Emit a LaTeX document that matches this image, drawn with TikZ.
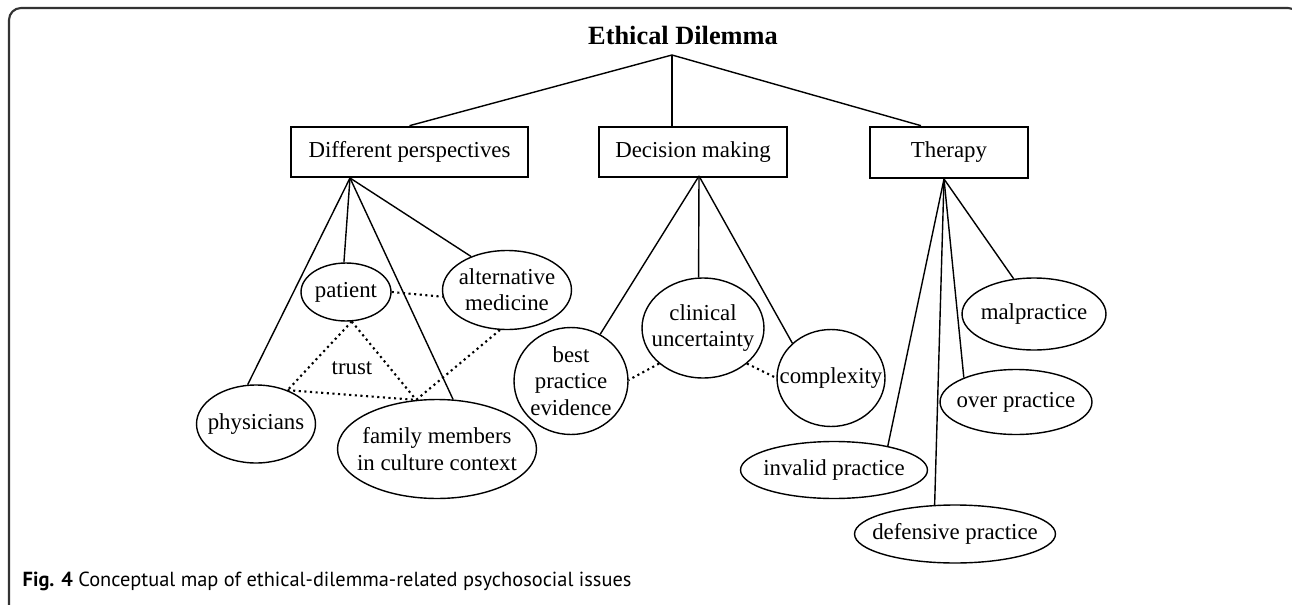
\documentclass[tikz,border=0pt]{standalone}
\usepackage{fontspec}
\setmainfont{Liberation Serif}
\newfontfamily\capfont{PT Sans}
\usetikzlibrary{%
  shapes,%
  shapes.geometric,% wg. ellipse
  calc%
}

\begin{document}
\begin{tikzpicture}
[x=0.02cm, y=-0.02cm, line width=0.8pt,
box/.style={rectangle, draw, line width=1.5pt, inner sep=0pt, font=\fontsize{13}{15}\selectfont},
oval/.style={ellipse, draw, line width=0.8pt, inner sep=0pt},
txt/.style={inner sep=0pt, align=center, font=\fontsize{13}{15}\selectfont},
link/.style={draw, line width=0.8pt},
tie/.style={draw, dotted, line width=1.2pt}]

\useasboundingbox (0,0) rectangle (1292,605);
\clip (0,0) rectangle (1292,605);

% frame
\draw[line width=1.2pt, black!80, rounded corners=0.24cm] (9,640) -- (9,8) -- (1300,8) -- (1300,640);

\node[font=\fontsize{15}{18}\selectfont\bfseries] (title) at (683,35) {Ethical Dilemma};
\coordinate (hub) at (672,55);

\node[box, minimum width=4.74cm, minimum height=1cm] (persp) at (409.5,152) {Different perspectives};
\node[box, minimum width=3.76cm, minimum height=1cm] (decis) at (693,152) {Decision making};
\node[box, minimum width=3.16cm, minimum height=1.02cm] (thera) at (949,152.5) {Therapy};

\coordinate (persp-o) at (350,178);
\coordinate (decis-o) at (699,176);
\coordinate (thera-o) at (944,179);

% different perspectives
\node[oval, minimum width=1.8cm, minimum height=1.16cm, label={[txt]center:patient}] (pat) at (346,292) {};
\node[oval, minimum width=2.58cm, minimum height=1.58cm, label={[txt]center:{alternative\\medicine}}] (alt) at (507,290) {};
\node[oval, minimum width=2.38cm, minimum height=1.56cm, label={[txt]center:physicians}] (phys) at (256,424) {};
\node[oval, minimum width=3.98cm, minimum height=1.98cm, label={[txt]center:{family members\\in culture context}}] (fam) at (437,449) {};
\node[txt] (trust) at (352,368) {trust};

% decision making
\node[oval, minimum width=2.28cm, minimum height=2.14cm, label={[txt]center:{best\\practice\\evidence}}] (best) at (571,381) {};
\node[oval, minimum width=2.44cm, minimum height=2cm, label={[txt]center:{clinical\\uncertainty}}] (clin) at (703,328) {};
\node[oval, minimum width=2.16cm, minimum height=1.94cm, label={[txt]center:complexity}] (comp) at (831,378) {};

% therapy
\node[oval, minimum width=2.88cm, minimum height=1.44cm, label={[txt]center:malpractice}] (mal) at (1034,314) {};
\node[oval, minimum width=3.04cm, minimum height=1.3cm, label={[txt]center:over practice}] (over) at (1016,402) {};
\node[oval, minimum width=3.74cm, minimum height=1.14cm, label={[txt]center:invalid practice}] (inv) at (834,470) {};
\node[oval, minimum width=4.02cm, minimum height=1.16cm, label={[txt]center:defensive practice}] (def) at (955,534) {};

\draw[link] (hub) -- (persp.north);
\draw[link] (hub) -- (hub |- decis.north);
\draw[link] (hub) -- ([xshift=-0.56cm]thera.north);

\draw[link] (persp-o) -- (pat.94);
\draw[link] (persp-o) -- (alt.137);
\draw[link] (persp-o) -- (phys.102);
\draw[link] (persp-o) -- (fam.72);

\draw[link] (decis-o) -- (best.58);
\draw[link] (decis-o) -- (clin.95);
\draw[link] (decis-o) -- (comp.138);

\draw[link] (thera-o) -- (mal.120);
\draw[link] (thera-o) -- (over.155);
\draw[link] (thera-o) -- (inv.24);
\draw[link] (thera-o) -- (def.125);

\draw[tie] (pat.east) -- (alt.186);
\draw[tie] (pat.-79) -- (phys.47);
\draw[tie] (pat.-79) -- (fam.113);
\draw[tie] (phys.47) -- (fam.113);
\draw[tie] (alt.260) -- (fam.113);
\draw[tie] (clin.219) -- (best.1);
\draw[tie] (clin.-39) -- (comp.west);

\node[anchor=base west, inner sep=0pt, font=\capfont\fontsize{11.6}{13}\selectfont] (caption) at (22,586)
  {\textbf{Fig. 4} Conceptual map of ethical-dilemma-related psychosocial issues};
\end{tikzpicture}
\end{document}
